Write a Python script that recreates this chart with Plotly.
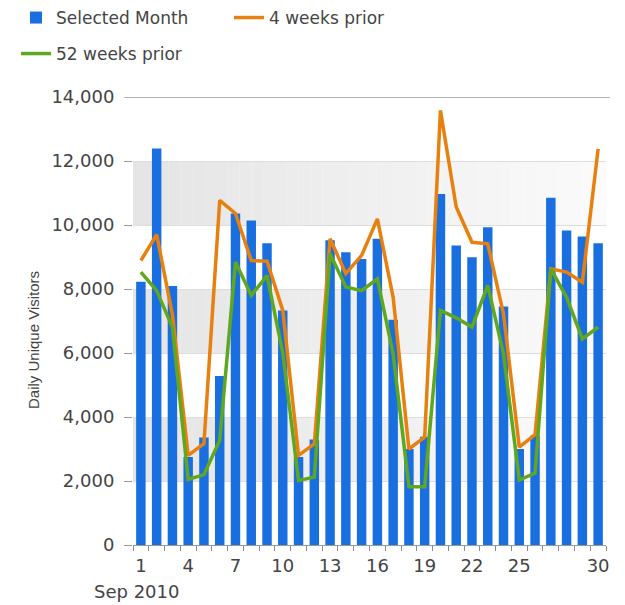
import plotly.graph_objects as go

# ---- data ----
days = list(range(1, 31))
selected_month = [8230, 12390, 8090, 2750, 3360, 5280, 10360, 10140, 9430, 7330,
                  2750, 3300, 9520, 9150, 8940, 9570, 7040, 3000, 3380, 10970,
                  9360, 8990, 9930, 7450, 3000, 3420, 10850, 9830, 9640, 9430]
weeks4_prior = [8890, 9700, 7200, 2800, 3170, 10770, 10360, 8890, 8870, 7330,
                2800, 3160, 9570, 8480, 9050, 10190, 7740, 3000, 3370, 13580,
                10560, 9460, 9410, 7220, 3060, 3450, 8630, 8530, 8210, 12380]
weeks52_prior = [8530, 7950, 6800, 2050, 2200, 3270, 8840, 7800, 8420, 6000,
                 2020, 2120, 9100, 8060, 7950, 8320, 5970, 1820, 1820, 7330,
                 7100, 6810, 8110, 5970, 2030, 2250, 8630, 7740, 6440, 6810]
x_tick_days = [1, 4, 7, 10, 13, 16, 19, 22, 25, 30]
y_ticks = [0, 2000, 4000, 6000, 8000, 10000, 12000, 14000]
period_label = "Sep 2010"
y_title = "Daily Unique Visitors"

# ---- layout geometry (page body has an 8px margin, so work in shifted px) ----
OFF = 8
W, H = 625 - OFF, 605 - OFF

def sx(p):  # reference page x -> figure x
    return p - OFF

def sy(p):
    return p - OFF

L, T = sx(133), sy(97)
R = W - sx(606)
B = H - sy(545)
PW, PH = W - L - R, H - T - B
FONT = "DejaVu Sans"
TXT = "#444444"

def px_x(p):
    return (sx(p) - L) / PW

def px_y(p):
    return (H - B - sy(p)) / PH

fig = go.Figure()
fig.add_trace(go.Bar(x=days, y=selected_month, name="Selected Month", width=0.6,
                     marker=dict(color="#1a6fe0", line=dict(width=0)),
                     legend="legend", showlegend=True))
fig.add_trace(go.Scatter(x=days, y=weeks4_prior, name="4 weeks prior", mode="lines",
                         line=dict(color="#e8800f", width=3.5), legend="legend2"))
fig.add_trace(go.Scatter(x=days, y=weeks52_prior, name="52 weeks prior", mode="lines",
                         line=dict(color="#5fa71f", width=3.5), legend="legend3"))

# alternating grey bands with a horizontal fade
shapes = []
x0, x1 = days[0] - 0.5, days[-1] + 0.5
n = 40
for k in range(1, len(y_ticks) - 1, 2):
    lo, hi = y_ticks[k], y_ticks[k + 1]
    for i in range(n):
        g = int(229 + (251 - 229) * i / (n - 1))
        shapes.append(dict(type="rect", xref="x", yref="y",
                           x0=x0 + (x1 - x0) * i / n, x1=x0 + (x1 - x0) * (i + 1) / n + 0.01,
                           y0=lo, y1=hi, fillcolor=f"rgb({g},{g},{g})",
                           line=dict(width=0), layer="below"))
shapes.append(dict(type="line", xref="paper", yref="y", x0=px_x(124), x1=px_x(610),
                   y0=y_ticks[-1], y1=y_ticks[-1], line=dict(color="#b3b3b3", width=2)))

def legend_at(xp, yp):
    return dict(xref="container", yref="container", x=sx(xp) / W, y=1 - sy(yp) / H,
                xanchor="left", yanchor="middle",
                font=dict(size=17, color=TXT, family=FONT), bgcolor="rgba(0,0,0,0)")

fig.update_layout(
    width=W, height=H, margin=dict(l=L, r=R, t=T, b=B, autoexpand=False),
    paper_bgcolor="white", plot_bgcolor="white", showlegend=True,
    font=dict(family=FONT, color=TXT, size=17),
    shapes=shapes,
    legend=legend_at(16, 18),
    legend2=legend_at(229, 18),
    legend3=legend_at(16, 54),
    xaxis=dict(range=[x0, x1], tickmode="array", tickvals=x_tick_days,
               ticktext=[str(d) for d in x_tick_days], ticks="outside", ticklen=4,
               tickcolor="rgba(0,0,0,0)", showgrid=False, zeroline=False,
               showline=True, linecolor="#999999", linewidth=1,
               tickfont=dict(family=FONT, size=18, color=TXT),
               minor=dict(tickmode="array", tickvals=[d + 0.5 for d in [0] + days],
                          ticks="outside", ticklen=5, tickcolor="#8a8a8a", showgrid=False)),
    yaxis=dict(range=[y_ticks[0], y_ticks[-1]], tickmode="array", tickvals=y_ticks,
               tickformat=",", ticks="outside", ticklen=8, tickcolor="#9a9a9a",
               showgrid=True, gridcolor="#dddddd", gridwidth=1, zeroline=False,
               showline=False, tickfont=dict(family=FONT, size=18, color=TXT),
               ticklabelstandoff=6),
    annotations=[
        dict(text=y_title, xref="paper", yref="paper", x=px_x(33), y=px_y(340),
             xanchor="center", yanchor="middle", textangle=-90, showarrow=False,
             font=dict(family="Liberation Sans", size=15, color=TXT)),
        dict(text=period_label, xref="paper", yref="paper", x=px_x(92), y=px_y(591),
             xanchor="left", yanchor="middle", showarrow=False,
             font=dict(family=FONT, size=18, color=TXT)),
    ],
)

fig.write_html("out.html")
